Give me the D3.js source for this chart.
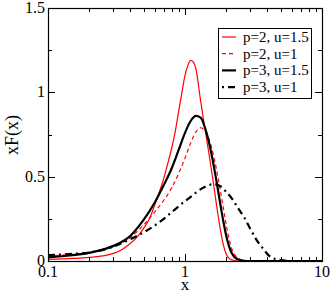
<!DOCTYPE html>
<html>
<head>
<meta charset="utf-8">
<script src="https://cdn.jsdelivr.net/npm/d3@7"></script>
<style>
  body { margin: 0; background: #fff; }
</style>
</head>
<body>
<div class="canvas"></div>
<script>
// data: [x, xF(x)]
const p2u15 = [[0.1,0.01],[0.15,0.015],[0.2,0.021],[0.25,0.03],[0.3,0.045],[0.35,0.07],[0.4,0.105],[0.45,0.145],[0.5,0.195],[0.55,0.25],[0.6,0.33],[0.65,0.41],[0.7,0.49],[0.75,0.58],[0.8,0.67],[0.85,0.77],[0.9,0.89],[0.95,1.0],[1.0,1.1],[1.05,1.16],[1.1,1.19],[1.15,1.18],[1.2,1.14],[1.3,0.95],[1.4,0.78],[1.5,0.63],[1.6,0.48],[1.7,0.33],[1.8,0.2],[1.9,0.1],[2.0,0.04],[2.1,0.015],[2.3,0.003],[2.6,0],[10,0]];
const p2u1 = [[0.1,0.03],[0.15,0.04],[0.2,0.05],[0.3,0.085],[0.4,0.14],[0.5,0.215],[0.6,0.29],[0.7,0.36],[0.8,0.435],[0.9,0.52],[1.0,0.61],[1.1,0.7],[1.2,0.765],[1.3,0.79],[1.4,0.77],[1.5,0.72],[1.6,0.64],[1.7,0.54],[1.8,0.43],[1.9,0.32],[2.0,0.215],[2.1,0.13],[2.2,0.07],[2.4,0.022],[2.7,0.003],[3.0,0],[10,0]];
const p3u15 = [[0.1,0.022],[0.15,0.034],[0.2,0.048],[0.3,0.09],[0.4,0.15],[0.5,0.245],[0.6,0.345],[0.7,0.45],[0.8,0.55],[0.9,0.66],[1.0,0.76],[1.1,0.83],[1.2,0.86],[1.3,0.85],[1.4,0.79],[1.5,0.7],[1.6,0.59],[1.7,0.47],[1.8,0.35],[1.9,0.24],[2.0,0.15],[2.1,0.085],[2.2,0.045],[2.4,0.012],[2.7,0.001],[3.0,0],[10,0]];
const p3u1 = [[0.1,0.035],[0.15,0.042],[0.2,0.05],[0.3,0.085],[0.4,0.13],[0.5,0.17],[0.6,0.21],[0.7,0.25],[0.8,0.29],[0.9,0.325],[1.0,0.355],[1.1,0.38],[1.2,0.405],[1.4,0.44],[1.6,0.455],[1.8,0.445],[2.0,0.41],[2.2,0.37],[2.5,0.3],[2.7,0.26],[3.0,0.19],[3.3,0.13],[3.7,0.075],[4.2,0.025],[5.0,0.005],[6.0,0],[10,0]];

const xTickLabels = ["0.1", "1", "10"];
const yTickLabels = ["0", "0.5", "1", "1.5"];
const legendLabels = ["p=2, u=1.5", "p=2, u=1", "p=3, u=1.5", "p=3, u=1"];

const series = [
  { data: p2u15, color: "#ff0000", width: 1.2, dash: null },
  { data: p2u1, color: "#ff0000", width: 1.2, dash: "4,3" },
  { data: p3u15, color: "#000", width: 2.2, dash: null },
  { data: p3u1, color: "#000", width: 2.2, dash: "7,4,2,4" },
];

const font = "Liberation Serif";

const margin = { top: 8, left: 48, right: 10, bottom: 32 };
const width = 332, height = 293;
const graphWidth = width - margin.left - margin.right;
const graphHeight = height - margin.top - margin.bottom;

const svg = d3
  .select(".canvas")
  .append("svg")
  .attr("width", width)
  .attr("height", height)
  .attr("font-family", font);

const graph = svg
  .append("g")
  .attr("transform", `translate(${margin.left},${margin.top})`);

// scales
const x = d3.scaleLog().domain([0.1, 10]).range([0, graphWidth]);
const y = d3.scaleLinear().domain([0, 1.5]).range([graphHeight, 0]);

svg.append("clipPath").attr("id", "clip")
  .append("rect").attr("width", graphWidth).attr("height", graphHeight);

// curves
const line = d3.line()
  .x((d) => x(d[0]))
  .y((d) => y(d[1]))
  .curve(d3.curveMonotoneX);

graph.append("g").attr("clip-path", "url(#clip)")
  .selectAll("path")
  .data(series)
  .enter()
  .append("path")
  .attr("fill", "none")
  .attr("stroke", (d) => d.color)
  .attr("stroke-width", (d) => d.width)
  .attr("stroke-dasharray", (d) => d.dash)
  .attr("d", (d) => line(d.data));

// ticks, inside on all four sides
const minorX = [];
[0.1, 1].forEach((dec) => {
  for (let k = 2; k <= 9; k++) minorX.push(dec * k);
});
const majorX = xTickLabels.map(Number);
const majorY = yTickLabels.map(Number);
const minorY = [0.25, 0.75, 1.25];

const ticks = graph.append("g").attr("stroke", "#000").attr("stroke-width", 1);
const addX = (vals, len) => vals.forEach((v) => {
  const px = Math.round(x(v)) + 0.5;
  ticks.append("line").attr("x1", px).attr("x2", px).attr("y1", graphHeight).attr("y2", graphHeight - len);
  ticks.append("line").attr("x1", px).attr("x2", px).attr("y1", 0).attr("y2", len);
});
const addY = (vals, len) => vals.forEach((v) => {
  const py = Math.round(y(v)) + 0.5;
  ticks.append("line").attr("x1", 0).attr("x2", len).attr("y1", py).attr("y2", py);
  ticks.append("line").attr("x1", graphWidth).attr("x2", graphWidth - len).attr("y1", py).attr("y2", py);
});
addX(minorX, 4);
addX(majorX.slice(1, 2), 7);
addY(minorY, 4);
addY(majorY.slice(1, 3), 7);

// frame
graph.append("rect")
  .attr("x", 0.5).attr("y", 0.5)
  .attr("width", graphWidth).attr("height", graphHeight)
  .attr("fill", "none").attr("stroke", "#000").attr("stroke-width", 1.2);

// tick labels
graph.selectAll(".xl").data(xTickLabels).enter().append("text")
  .attr("x", (d) => x(+d))
  .attr("y", graphHeight + 16)
  .attr("text-anchor", "middle")
  .attr("font-size", 16)
  .text((d) => d);

graph.selectAll(".yl").data(yTickLabels).enter().append("text")
  .attr("x", -3)
  .attr("y", (d) => y(+d) + 5)
  .attr("text-anchor", "end")
  .attr("font-size", 16)
  .text((d) => d);

// axis titles
svg.append("text")
  .attr("x", margin.left + graphWidth / 2)
  .attr("y", 290)
  .attr("text-anchor", "middle")
  .attr("font-size", 17)
  .text("x");

svg.append("text")
  .attr("transform", "translate(18,135) rotate(-90)")
  .attr("text-anchor", "middle")
  .attr("font-size", 18)
  .text("xF(x)");

// legend
const legend = svg.append("g").attr("transform", "translate(218,28)");
legend.append("rect")
  .attr("x", 0.5).attr("y", 0.5)
  .attr("width", 93).attr("height", 70)
  .attr("fill", "#fff").attr("stroke", "#000").attr("stroke-width", 1);

legendLabels.forEach((lab, i) => {
  const s = series[i];
  const ly = 9 + i * 16.7;
  legend.append("line")
    .attr("x1", 4).attr("x2", 18)
    .attr("y1", ly).attr("y2", ly)
    .attr("stroke", s.color)
    .attr("stroke-width", s.width)
    .attr("stroke-dasharray", s.dash ? (i === 3 ? "2,4,7,4" : s.dash) : null);
  legend.append("text")
    .attr("x", 25)
    .attr("y", ly + 5)
    .attr("font-size", 15)
    .text(lab);
});
</script>
</body>
</html>
